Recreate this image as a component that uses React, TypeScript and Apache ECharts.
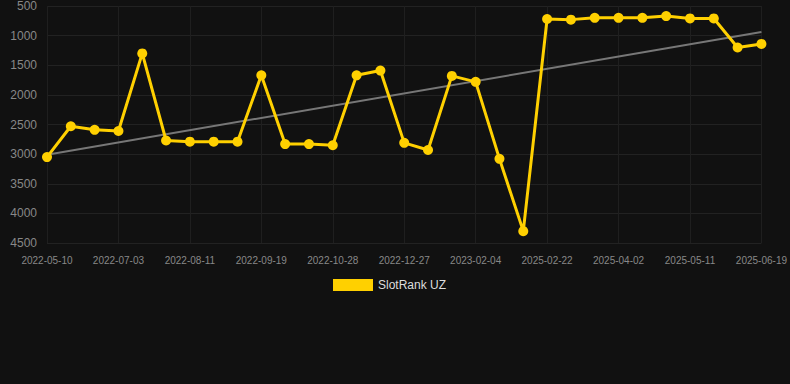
import React, { useEffect, useRef } from "react";
import * as echarts from "echarts";

const categories = [
  "2022-05-10", "2022-05-28", "2022-06-15", "2022-07-03", "2022-07-16", "2022-07-29",
  "2022-08-11", "2022-08-24", "2022-09-06", "2022-09-19", "2022-10-02", "2022-10-15",
  "2022-10-28", "2022-11-17", "2022-12-07", "2022-12-27", "2023-01-09", "2023-01-22",
  "2023-02-04", "2023-03-01", "2024-06-10", "2025-02-22", "2025-03-07", "2025-03-20",
  "2025-04-02", "2025-04-15", "2025-04-28", "2025-05-11", "2025-05-24", "2025-06-06",
  "2025-06-19",
];

const rankValues = [
  3050, 2530, 2590, 2610, 1300, 2770, 2790, 2790, 2790, 1670, 2830, 2830, 2850, 1670,
  1590, 2810, 2930, 1680, 1780, 3080, 4300, 720, 730, 700, 700, 700, 670, 710, 710,
  1200, 1140,
];

const yTicks = [500, 1000, 1500, 2000, 2500, 3000, 3500, 4000, 4500];

function trend(values: number[]): (number | null)[] {
  const n = values.length;
  let sx = 0, sy = 0, sxy = 0, sxx = 0;
  values.forEach((v, i) => {
    sx += i; sy += v; sxy += i * v; sxx += i * i;
  });
  const b = (n * sxy - sx * sy) / (n * sxx - sx * sx);
  const a = (sy - b * sx) / n;
  return values.map((_, i) => (i === 0 || i === n - 1 ? a + b * i : null));
}

export default function App() {
  const ref = useRef<HTMLDivElement>(null);
  useEffect(() => {
    document.body.style.margin = "0";
    document.body.style.background = "#111111";
    if (!ref.current) return;
    const chart = echarts.init(ref.current, undefined, { renderer: "svg" });
    chart.setOption({
      animation: false,
      backgroundColor: "#111111",
      grid: { left: 47, right: 28, top: 6, bottom: 141 },
      legend: {
        top: 274,
        left: 328,
        itemWidth: 40,
        itemHeight: 12,
        data: [{ name: "SlotRank UZ", icon: "rect" }],
        textStyle: { color: "#dddddd", fontSize: 12, fontFamily: "Arial, Liberation Sans, sans-serif" },
      },
      xAxis: {
        type: "category",
        data: categories,
        boundaryGap: false,
        axisLine: { show: false },
        axisTick: { show: false },
        axisLabel: {
          interval: 2,
          color: "#888888",
          fontSize: 10,
          margin: 12,
          fontFamily: "Arial, Liberation Sans, sans-serif",
        },
        splitLine: { show: true, interval: 2, lineStyle: { color: "#1f1f1f" } },
      },
      yAxis: {
        type: "value",
        inverse: true,
        min: yTicks[0],
        max: yTicks[yTicks.length - 1],
        interval: 500,
        axisLine: { show: false },
        axisTick: { show: false },
        axisLabel: {
          color: "#888888",
          fontSize: 12,
          margin: 10,
          formatter: (v: number) => String(v),
          fontFamily: "Arial, Liberation Sans, sans-serif",
        },
        splitLine: { lineStyle: { color: "#222222" } },
      },
      series: [
        {
          name: "SlotRank UZ",
          type: "line",
          data: rankValues,
          symbol: "circle",
          symbolSize: 10,
          itemStyle: { color: "#FFD000" },
          lineStyle: { color: "#FFD000", width: 3 },
          z: 3,
        },
        {
          name: "Trend",
          type: "line",
          data: trend(rankValues),
          connectNulls: true,
          symbol: "none",
          lineStyle: { color: "#777777", width: 2 },
          z: 2,
        },
      ],
    });
    return () => chart.dispose();
  }, []);
  return <div ref={ref} style={{ width: 790, height: 384 }} />;
}
